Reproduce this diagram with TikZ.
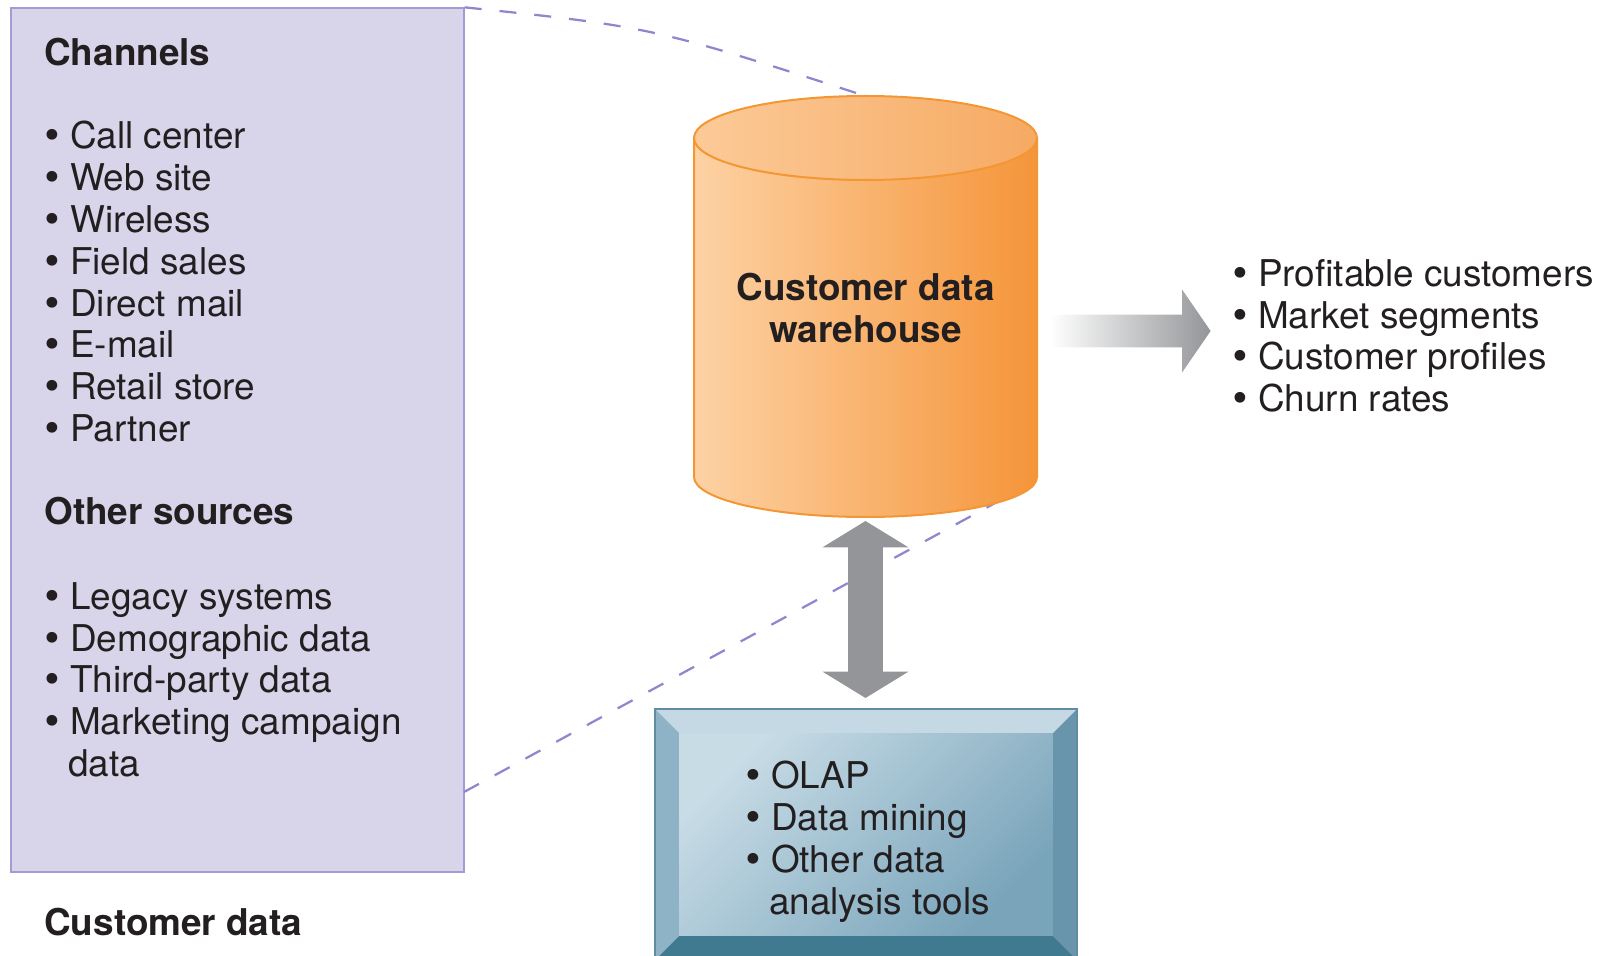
\documentclass[tikz,border=0pt]{standalone}
\usepackage{fontspec}
\setmainfont{TeX Gyre Heros}
\newfontfamily\bulletfont{DejaVu Sans}
\usetikzlibrary{shapes.arrows}
\definecolor{ink}{HTML}{231F20}
\definecolor{lavfill}{HTML}{D8D5EA}
\definecolor{lavedge}{HTML}{A39BD3}
\definecolor{dashcol}{HTML}{8F87CE}
\definecolor{cylleft}{HTML}{FDD2A4}
\definecolor{cylright}{HTML}{F5953A}
\definecolor{capleft}{HTML}{FCCA98}
\definecolor{capright}{HTML}{F6AA62}
\definecolor{cyledge}{HTML}{F39634}
\definecolor{arrowgray}{HTML}{939598}
\definecolor{bevtop}{HTML}{C4D9E4}
\definecolor{bevleft}{HTML}{8EB3C6}
\definecolor{bevright}{HTML}{6895AC}
\definecolor{bevbottom}{HTML}{3F7A91}
\definecolor{faceL}{HTML}{C8DCE6}
\definecolor{faceR}{HTML}{79A4BA}
\definecolor{boxedge}{HTML}{5E8DA4}
\newcommand\pxu{0.02cm}
\newcommand\bul{\makebox[0.7em][l]{\hspace*{-0.08em}\bulletfont\textbullet}}

\begin{document}
\begin{tikzpicture}
    [x=\pxu, y=-\pxu,
     txt/.style={font=\fontsize{21}{23.8}\selectfont, text=ink, align=left,
       inner sep=0pt, anchor=north west},
     head/.style={txt, font=\fontsize{21}{23.8}\selectfont\bfseries},
     guide/.style={draw=dashcol, line width=0.045cm, dash pattern=on 0.34cm off 0.36cm},
     srcbox/.style={draw=lavedge, fill=lavfill, line width=0.03cm,
       minimum width=9.06cm, minimum height=17.28cm, inner sep=0pt},
     face/.style={top color=faceL, bottom color=faceR, shading angle=45,
       minimum width=7.48cm, minimum height=4.06cm, inner sep=0pt},
     outarrow/.style={single arrow, single arrow head extend=0.5cm,
       single arrow tip angle=111, minimum height=3.2cm,
       inner xsep=0pt, inner ysep=0.32cm, left color=white, right color=arrowgray},
     dblarrow/.style={double arrow, double arrow head extend=0.51cm,
       double arrow tip angle=117, minimum height=3.54cm,
       inner xsep=0pt, inner ysep=0.34cm, fill=arrowgray, rotate=90}]
    \clip (0,0) rectangle (1614,956);
    \node [srcbox] (src) at (237.5,440) {};
    \coordinate (srcexit) at (464,792);
    \coordinate (captop) at (865.5,96);
    \coordinate (basecorner) at (1008,496);
    \draw [guide] (src.north east) .. controls (652,27) .. (captop);
    \draw [guide] (srcexit) -- (basecorner);

    \node [head] (chanhead) at (44,38) {Channels};
    \node [txt] (chanlist) at (44,121) {\bul Call center\\
      \bul Web site\\ \bul Wireless\\ \bul Field sales\\
      \bul Direct mail\\ \bul E-mail\\ \bul Retail store\\
      \bul Partner};
    \node [head] (othhead) at (44,497) {Other sources};
    \node [txt] (othlist) at (44,582) {\bul Legacy systems\\
      \bul Demographic data\\ \bul Third-party data\\
      \bul Marketing campaign\\ \hspace*{0.65em}data};
    \node [head] (custlabel) at (44,908) {Customer data};

    \shade [left color=cylleft, right color=cylright, draw=cyledge, line width=0.04cm]
      (694,138) -- (694,477) arc [start angle=180, end angle=0, x radius=171.5, y radius=40]
      -- (1037,138) -- cycle;
    \shade [left color=capleft, right color=capright, draw=cyledge, line width=0.04cm]
      (865.5,138) ellipse [x radius=171.5, y radius=42];
    \node [head, anchor=center, align=center] (wh) at (865.5,308) {Customer data\\warehouse};

    \node [outarrow] (out) at (1125,331) {};
    \node [txt] (results) at (1232,259) {\bul Profitable customers\\
      \bul Market segments\\ \bul Customer profiles\\
      \bul Churn rates};

    \node [dblarrow] (link) at (865.5,609.5) {};

    \fill [bevtop] (655,709) -- (1077,709) -- (1053,733) -- (679,733) -- cycle;
    \fill [bevleft] (655,709) -- (679,733) -- (679,936) -- (655,960) -- cycle;
    \fill [bevright] (1077,709) -- (1077,960) -- (1053,936) -- (1053,733) -- cycle;
    \fill [bevbottom] (655,960) -- (679,936) -- (1053,936) -- (1077,960) -- cycle;
    \draw [boxedge, line width=0.03cm] (655,960) -- (655,709) -- (1077,709) -- (1077,960);
    \node [face] (tools) at (866,834.5) {};
    \node [txt] (toollist) at (745,761) {\bul OLAP\\ \bul Data mining\\
      \bul Other data\\ \hspace*{0.65em}analysis tools};
\end{tikzpicture}
\end{document}
